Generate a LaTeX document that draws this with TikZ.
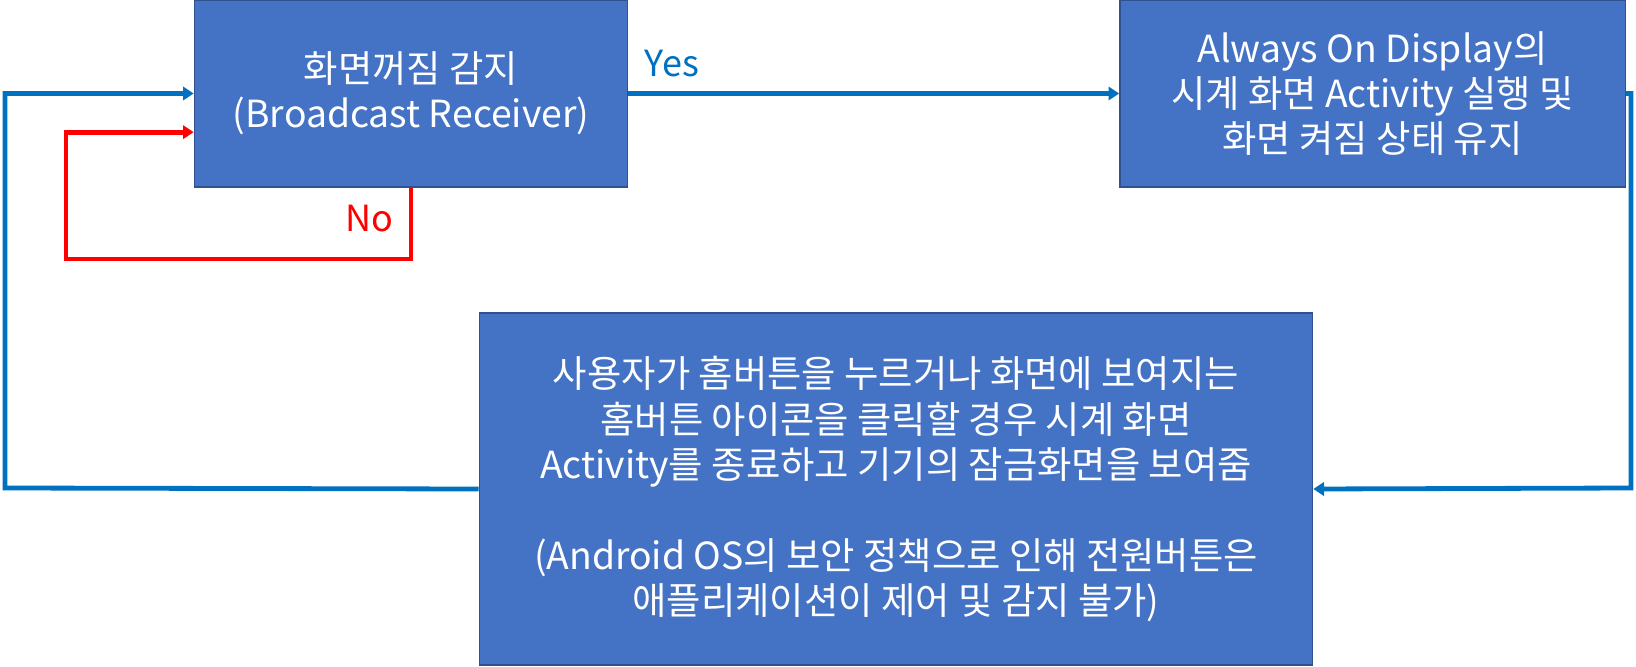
\documentclass[tikz,border=0pt]{standalone}
\usepackage{fontspec}
\setmainfont{Noto Sans CJK KR}
\usepackage{tikz}
\usetikzlibrary{arrows.meta,calc}
\definecolor{aodfill}{HTML}{4472C4}
\definecolor{aodedge}{HTML}{2F528F}
\definecolor{aodblue}{HTML}{0070C0}
\definecolor{aodred}{HTML}{FF0000}
\tikzset{
  aod box/.style={
    rectangle,
    draw=aodedge,
    line width=1pt,
    fill=aodfill,
    text=white,
    align=center,
    font=\fontsize{28}{34}\selectfont,
    inner sep=4pt,
  },
  aod flow/.style={-{Triangle[length=8pt,width=10pt]}, line width=3.6pt, draw=aodblue},
  aod no/.style={-{Triangle[length=8pt,width=10pt]}, line width=3.6pt, draw=aodred},
  aod label/.style={font=\fontsize{27}{32}\selectfont, inner sep=0pt},
}

\begin{document}
\begin{tikzpicture}[x=0.75pt,y=-0.75pt]
  \useasboundingbox (0,0) rectangle (1636,667);

  \node[aod box,minimum width=325pt,minimum height=140pt] (detect) at (411,93.5)
    {화면꺼짐 감지\\(Broadcast Receiver)};
  \node[aod box,minimum width=379pt,minimum height=140pt] (clock) at (1372.5,93.5)
    {Always On Display의\\시계 화면 Activity 실행 및\\화면 켜짐 상태 유지};
  \node[aod box,minimum width=625pt,minimum height=264pt] (home) at (896,489)
    {사용자가 홈버튼을 누르거나 화면에 보여지는\\홈버튼 아이콘을 클릭할 경우 시계 화면\\Activity를 종료하고 기기의 잠금화면을 보여줌\\[34pt]
     (Android OS의 보안 정책으로 인해 전원버튼은\\애플리케이션이 제어 및 감지 불가)};

  \node[aod label,text=aodblue] (yes) at (672,64) {Yes};
  \node[aod label,text=aodred] (no) at (369,219) {No};

  % corners of the loop round the boxes
  \coordinate (rc) at (1631,488);
  \coordinate (lc) at (5,488);
  \coordinate (nc) at (66,259);

  \draw[aod flow] (detect) -- (clock);
  \draw[aod flow] (clock.east) -| (rc) -- (home.east);
  \draw[aod flow] (home.west) -- (lc) |- (detect.west);
  \draw[aod no] (detect.south) |- (nc) |- ([yshift=-29pt]detect.west);
\end{tikzpicture}
\end{document}
